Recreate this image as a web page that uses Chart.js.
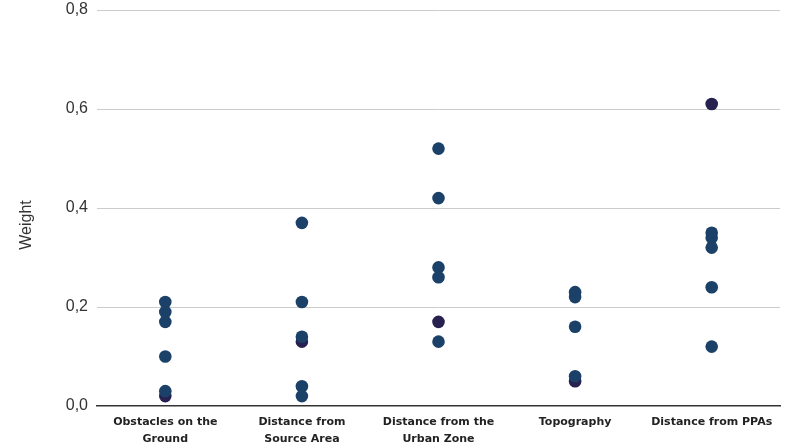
<!DOCTYPE html>
<html>
<head>
<meta charset="utf-8">
<script src="https://cdn.jsdelivr.net/npm/chart.js@4"></script>
<style>
  html, body { margin: 0; padding: 0; background: #fff; }
  #wrap { width: 800px; height: 448px; }
</style>
</head>
<body>
<div id="wrap"><canvas id="c" width="800" height="448"></canvas></div>
<script>
const categories = ["Obstacles on the Ground", "Distance from Source Area", "Distance from the Urban Zone", "Topography", "Distance from PPAs"];
const categoryLines = [["Obstacles on the", "Ground"], ["Distance from", "Source Area"], ["Distance from the", "Urban Zone"], ["Topography"], ["Distance from PPAs"]];

// weights read per criterion (blue markers)
const obstaclesWeights = [0.21, 0.19, 0.17, 0.10, 0.03];
const sourceWeights = [0.37, 0.21, 0.14, 0.04, 0.02];
const urbanWeights = [0.52, 0.42, 0.28, 0.26, 0.13];
const topographyWeights = [0.23, 0.22, 0.16, 0.06];
const ppaWeights = [0.35, 0.34, 0.32, 0.24, 0.12];
// darker markers
const darkWeights = [0.02, 0.13, 0.17, 0.05, 0.61];

const yTicks = [0, 0.2, 0.4, 0.6, 0.8];
const yTitle = 'Weight';

const blueGroups = [obstaclesWeights, sourceWeights, urbanWeights, topographyWeights, ppaWeights];
const bluePoints = [];
blueGroups.forEach((arr, i) => arr.forEach(v => bluePoints.push({ x: categories[i], y: v })));
const darkPoints = darkWeights.map((v, i) => ({ x: categories[i], y: v }));

const yTitlePlugin = {
  id: 'yTitle',
  afterDraw(chart) {
    const ctx = chart.ctx;
    ctx.save();
    ctx.translate(27, 225);
    ctx.rotate(-Math.PI / 2);
    ctx.font = '16px "Liberation Sans"';
    ctx.fillStyle = '#333333';
    ctx.textAlign = 'center';
    ctx.textBaseline = 'middle';
    ctx.fillText(yTitle, 0, 0);
    ctx.restore();
  }
};

new Chart(document.getElementById('c'), {
  type: 'scatter',
  data: {
    labels: categories,
    datasets: [
      { label: 'Weights', data: bluePoints, backgroundColor: '#1b4168', borderColor: '#1b4168', pointRadius: 6.3, borderWidth: 0 },
      { label: 'Highlighted', data: darkPoints, backgroundColor: '#26214f', borderColor: '#26214f', pointRadius: 6.3, borderWidth: 0 }
    ]
  },
  plugins: [yTitlePlugin],
  options: {
    responsive: false,
    animation: false,
    layout: { padding: { top: 10, right: 20, left: 0, bottom: 0 } },
    plugins: { legend: { display: false }, tooltip: { enabled: false } },
    scales: {
      x: {
        type: 'category',
        labels: categories,
        offset: true,
        grid: { display: false, drawTicks: false },
        border: { display: true, color: '#333333', width: 1.5 },
        ticks: {
          autoSkip: false,
          maxRotation: 0,
          padding: 7,
          color: '#222222',
          font: { family: 'DejaVu Sans', size: 11, weight: 'bold', lineHeight: 1.6 },
          callback: (v, i) => categoryLines[i]
        },
        afterFit: s => { s.height = 42; s.paddingLeft = 0; s.paddingRight = 0; }
      },
      y: {
        min: 0,
        max: 0.8,
        afterBuildTicks: s => { s.ticks = yTicks.map(v => ({ value: v })); },
        grid: {
          drawTicks: false,
          color: ctx => (ctx.tick && ctx.tick.value === 0) ? 'rgba(0,0,0,0)' : '#cccccc',
          lineWidth: 1
        },
        border: { display: false },
        ticks: {
          padding: 9,
          color: '#333333',
          font: { family: 'Liberation Sans', size: 16 },
          callback: v => v.toFixed(1).replace('.', ',')
        },
        title: { display: false },
        afterFit: s => { s.width = 97; s.paddingTop = 0; s.paddingBottom = 0; }
      }
    }
  }
});
</script>
</body>
</html>
